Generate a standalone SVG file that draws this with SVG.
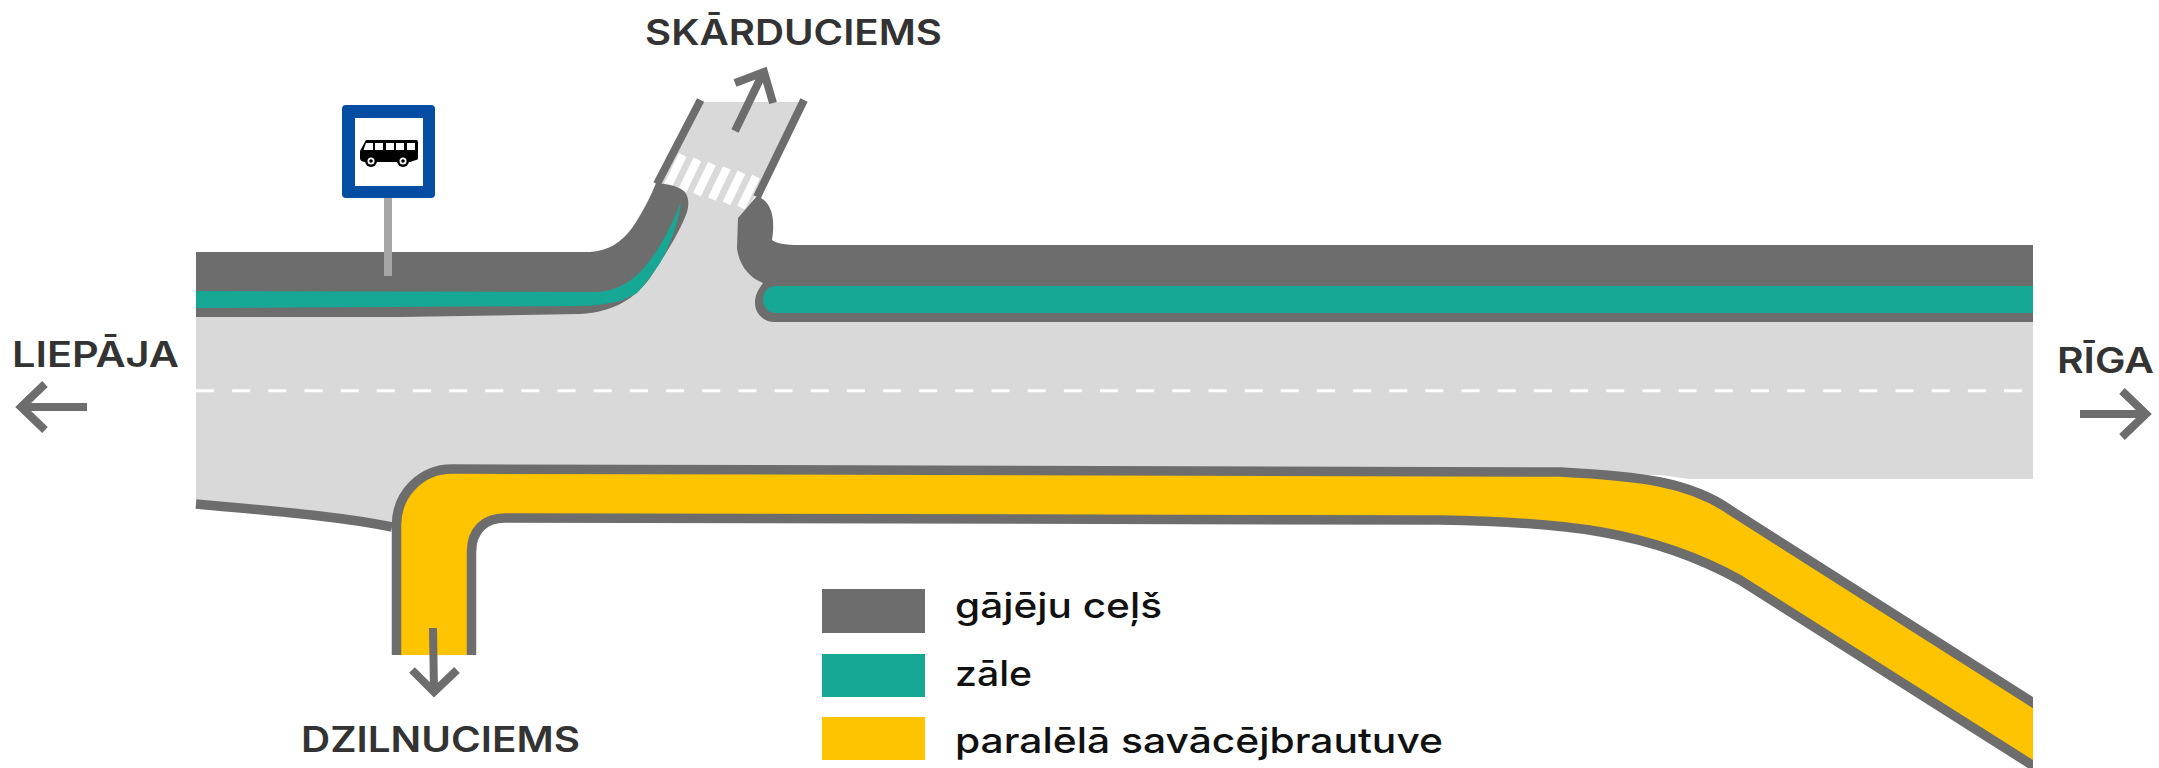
<svg xmlns="http://www.w3.org/2000/svg" width="2159" height="768" viewBox="0 0 2159 768">
<style>
.lbl{font-family:"Inter","Liberation Sans",sans-serif;font-weight:600;font-size:35px;fill:#333}
.leg{font-family:"Inter","Liberation Sans",sans-serif;font-weight:500;font-size:35px;fill:#111}
.edge{fill:none;stroke:#6d6d6d;stroke-width:9.5}
.grey{fill:#6d6d6d}.teal{fill:#17a795}.yel{fill:#ffc400}
.arr{fill:none;stroke:#6d6d6d;stroke-width:8}
.stripe{stroke:#fff;stroke-width:8.5}
</style>
<defs><clipPath id="cl"><rect x="0" y="0" width="2033" height="768"/></clipPath></defs>
<g id="road">
<path fill="#d9d9d9" d="M196 305H590L702 102H803L745 215L770 260L790 300V318H2033V479H1690L1660 475L1500 474H452Q396 469 392 527C340 516 270 511 196 504Z"/>
<path class="edge" d="M196 504C270 511 340 516 392 527"/>
<line x1="196" y1="390.7" x2="2022" y2="390.7" stroke="#fff" stroke-width="3" stroke-dasharray="18 18.16"/>
</g>
<g id="side-road">
<line class="edge" x1="700.6" y1="100" x2="657" y2="184" style="stroke-width:8"/>
<line class="edge" x1="804" y1="100" x2="757" y2="197" style="stroke-width:8"/>
</g>
<g id="crosswalk">
<line class="stripe" x1="682.7" y1="155" x2="667.7" y2="186"/>
<line class="stripe" x1="697.4" y1="159.3" x2="682.4" y2="190.3"/>
<line class="stripe" x1="712" y1="163.6" x2="697" y2="194.6"/>
<line class="stripe" x1="726.8" y1="168" x2="711.8" y2="199"/>
<line class="stripe" x1="741.5" y1="172.3" x2="726.5" y2="203.3"/>
<line class="stripe" x1="756" y1="176.6" x2="741" y2="207.6"/>
</g>
<g id="left-sidewalk">
<path class="grey" d="M196 252L590 252C608 251 622 242 632 228C642 214 650 198 656 183C668 184 676 186 681 189C688 193 690 202 687 212C680 232 665 255 650 278C635 298 615 312 580 314L400 317L196 317Z"/>
<path class="teal" d="M196 291L570 292L600 292C615 290 628 284 640 272C655 256 668 235 681 202C678 225 670 245 660 263C650 277 644 286 637 293C628 298 620 302 610 303C600 305 590 306 580 306L196 308Z"/>
</g>
<g id="right-sidewalk">
<path class="grey" d="M2033 245V322H775C762 322 755 312 755 303C755 295 758 290 763 283C750 278 739 266 737 248L738 218L757 196C770 201 776 215 772 240C775 243 785 245 800 245Z"/>
<rect class="teal" x="763" y="286" width="1270" height="27" rx="13"/>
<rect class="teal" x="790" y="286" width="1243" height="27"/>
</g>
<g id="parallel-road" clip-path="url(#cl)">
<path class="yel" d="M396.5 655V525C396.5 494 421 469 452 469L1560 472C1640 476 1690 482 1730 510L2043 709V772L1740 580C1650 530 1560 522 1440 520L505 518C485 518 471.5 530 471.5 552V655Z"/>
<path class="edge" d="M396.5 655V525C396.5 494 421 469 452 469L1560 472C1640 476 1690 482 1730 510L2043 709"/>
<path class="edge" d="M471.5 655V552C471.5 530 485 518 505 518L1440 520C1560 522 1650 530 1740 580L2043 772"/>
</g>
<g id="bus-stop">
<rect x="384" y="198" width="8" height="78" fill="#a6a6a6"/>
<rect x="342" y="105" width="93" height="93" rx="4" fill="#034ea2"/>
<rect x="355" y="118" width="68" height="68" fill="#fff"/>
<path fill="#000" d="M366 140H416Q418 140 418 142V158Q418 160 416 160L410 162H366Q360 162 360 158V151Z"/>
<g fill="#fff"><path d="M366 143H373V150H363.5Z"/><rect x="375" y="143" width="8" height="7"/><rect x="386" y="143" width="8" height="7"/><rect x="396" y="143" width="8" height="7"/><rect x="407" y="143" width="8" height="7"/></g>
<circle cx="371" cy="161" r="6" fill="#000"/><circle cx="371" cy="161" r="3.5" fill="#fff"/><circle cx="371" cy="161" r="1.8" fill="#000"/>
<circle cx="403" cy="161" r="6" fill="#000"/><circle cx="403" cy="161" r="3.5" fill="#fff"/><circle cx="403" cy="161" r="1.8" fill="#000"/>
</g>
<g id="connectors">
<path class="arr" d="M735 131L763 73M735 83L764 72L773 103"/>
<path class="arr" d="M87 407H22M45 384L21 407L45 430"/>
<path class="arr" d="M2080 414H2146M2122 391L2146 414L2122 437"/>
<path class="arr" d="M433 628L434 692M412 670L434 692L457 670"/>
</g>
<g id="labels">
<text class="lbl" x="645" y="45" textLength="297" lengthAdjust="spacingAndGlyphs">SKĀRDUCIEMS</text>
<text class="lbl" x="301" y="752" textLength="279" lengthAdjust="spacingAndGlyphs">DZILNUCIEMS</text>
<text class="lbl" x="12" y="367" textLength="167" lengthAdjust="spacingAndGlyphs">LIEPĀJA</text>
<text class="lbl" x="2057" y="373" textLength="97" lengthAdjust="spacingAndGlyphs">RĪGA</text>
</g>
<g id="legend">
<rect class="grey" x="822" y="589" width="103" height="44"/>
<rect class="teal" x="822" y="654" width="103" height="43"/>
<rect class="yel" x="822" y="717" width="103" height="43"/>
<text class="leg" x="955" y="618" textLength="207" lengthAdjust="spacingAndGlyphs">gājēju ceļš</text>
<text class="leg" x="955" y="686" textLength="77" lengthAdjust="spacingAndGlyphs">zāle</text>
<text class="leg" x="955" y="753" textLength="488" lengthAdjust="spacingAndGlyphs">paralēlā savācējbrautuve</text>
</g>
</svg>
